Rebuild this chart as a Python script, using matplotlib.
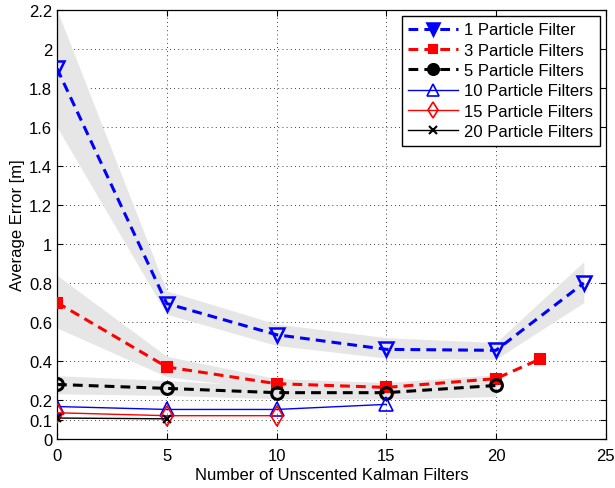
import numpy as np
import matplotlib
matplotlib.use('Agg')
import matplotlib.pyplot as plt

plt.rcParams['font.family'] = ['Liberation Sans', 'DejaVu Sans']

# number of UKFs
x_pf1 = [0, 5, 10, 15, 20, 24]
x_pf3 = [0, 5, 10, 15, 20, 22]
x_pf5 = [0, 5, 10, 15, 20]
x_pf10 = [0, 5, 10, 15]
x_pf15 = [0, 5, 10]
x_pf20 = [0, 5]

# average error [m]
err_pf1 = [1.90, 0.695, 0.535, 0.46, 0.455, 0.80]
err_pf3 = [0.70, 0.37, 0.284, 0.265, 0.31, 0.41]
err_pf5 = [0.28, 0.26, 0.238, 0.238, 0.275]
err_pf10 = [0.167, 0.152, 0.152, 0.178]
err_pf15 = [0.135, 0.12, 0.12]
err_pf20 = [0.108, 0.104]

# shaded spread
band_x_pf1 = [0, 5, 10, 15, 20, 24]
band_lo_pf1 = [1.60, 0.64, 0.48, 0.415, 0.41, 0.70]
band_hi_pf1 = [2.20, 0.76, 0.59, 0.52, 0.495, 0.91]
band_x_pf3 = [0, 5, 10, 15, 20]
band_lo_pf3 = [0.57, 0.32, 0.25, 0.23, 0.26]
band_hi_pf3 = [0.84, 0.424, 0.31, 0.29, 0.33]
band_x_pf5 = [0, 5, 10, 15, 20]
band_lo_pf5 = [0.232, 0.224, 0.207, 0.205, 0.218]
band_hi_pf5 = [0.325, 0.30, 0.27, 0.285, 0.325]

labels = ['1 Particle Filter', '3 Particle Filters', '5 Particle Filters',
          '10 Particle Filters', '15 Particle Filters', '20 Particle Filters']

fs = 12
fig = plt.figure(figsize=(6.15, 4.89), dpi=100)
ax = fig.add_axes([0.0927, 0.100, 0.8923, 0.8776])

grey = '#e6e6e6'
ax.fill_between(band_x_pf1, band_lo_pf1, band_hi_pf1, color=grey, lw=0, zorder=1)
ax.fill_between(band_x_pf3, band_lo_pf3, band_hi_pf3, color=grey, lw=0, zorder=1)
ax.fill_between(band_x_pf5, band_lo_pf5, band_hi_pf5, color=grey, lw=0, zorder=1)

dash = (3.2, 2.0)
l1, = ax.plot(x_pf1, err_pf1, color='blue', ls='--', dashes=dash, lw=2.2, marker='v',
              ms=10, mfc='none', mew=1.8, zorder=3)
l2, = ax.plot(x_pf3, err_pf3, color='red', ls='--', dashes=dash, lw=2.2, marker='s',
              ms=7, mfc='red', mew=1.5, zorder=3)
l3, = ax.plot(x_pf5, err_pf5, color='black', ls='--', dashes=dash, lw=2.2, marker='o',
              ms=8.5, mfc='none', mew=2.2, zorder=3)
l4, = ax.plot(x_pf10, err_pf10, color='blue', lw=1.0, marker='^', ms=10, mfc='none',
              mew=1.2, zorder=3)
l5, = ax.plot(x_pf15, err_pf15, color='red', lw=1.0, marker='d', ms=10, mfc='none',
              mew=1.2, zorder=3)
l6, = ax.plot(x_pf20, err_pf20, color='black', lw=1.0, marker='x', ms=6,
              mew=1.5, zorder=3)

ax.set_xlim(0, 25)
ax.set_ylim(0, 2.2)
ax.set_xticks([0, 5, 10, 15, 20, 25])
yt = [0, 0.1, 0.2, 0.4, 0.6, 0.8, 1.0, 1.2, 1.4, 1.6, 1.8, 2.0, 2.2]
ax.set_yticks(yt)
ax.set_yticklabels(['%g' % v for v in yt])
ax.tick_params(direction='in', top=True, right=True, length=4, labelsize=fs,
               width=0.8)
ax.tick_params(axis='x', pad=6.5)
ax.tick_params(axis='y', pad=3.5)
ax.grid(True, ls=(0, (1, 4)), color='black', lw=0.6)
ax.set_axisbelow(True)
for s in ax.spines.values():
    s.set_linewidth(0.9)

ax.set_xlabel('Number of Unscented Kalman Filters', fontsize=fs, labelpad=2.5)
ax.set_ylabel('Average Error [m]', fontsize=fs, labelpad=3)

leg = ax.legend([l1, l2, l3, l4, l5, l6], labels, loc='upper right', fontsize=fs,
                fancybox=False, edgecolor='black', framealpha=1, handlelength=3.0,
                borderaxespad=0.35, labelspacing=0.32, handletextpad=0.35,
                borderpad=0.4, markerscale=0.85)
leg.get_frame().set_linewidth(1.0)
for h, c in zip(leg.legend_handles[:3], ['blue', 'red', 'black']):
    h.set_markerfacecolor(c)

fig.savefig('out.png', dpi=100)
